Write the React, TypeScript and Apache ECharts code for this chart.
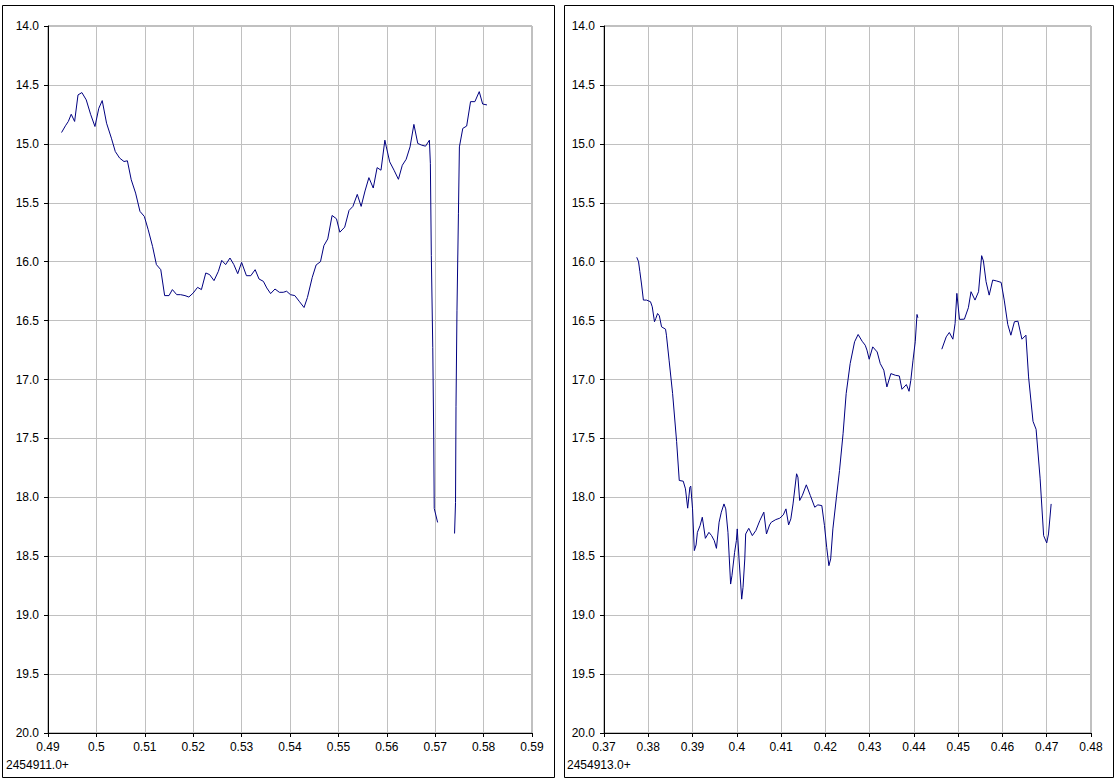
import React, { useEffect, useRef } from "react";
import * as echarts from "echarts";

// Left panel (JD 2454911.0+), two segments separated by a gap
const leftSeg1X = [0.4928, 0.4936, 0.4942, 0.4948, 0.4955, 0.4962, 0.497, 0.4979, 0.4988, 0.4997, 0.5005, 0.5012, 0.5021, 0.5031, 0.5039, 0.5048, 0.5057, 0.5064, 0.5072, 0.5081, 0.509, 0.5099, 0.5107, 0.5116, 0.5124, 0.5133, 0.5141, 0.515, 0.5157, 0.5166, 0.5174, 0.5183, 0.5191, 0.52, 0.5209, 0.5217, 0.5226, 0.5234, 0.5243, 0.5252, 0.5259, 0.5267, 0.5276, 0.5284, 0.5292, 0.53, 0.531, 0.5319, 0.5328, 0.5336, 0.5345, 0.5352, 0.536, 0.5369, 0.5378, 0.5386, 0.5393, 0.5401, 0.541, 0.5419, 0.5429, 0.5436, 0.5446, 0.5454, 0.5463, 0.547, 0.5478, 0.5487, 0.5496, 0.5503, 0.5513, 0.5522, 0.553, 0.5539, 0.5547, 0.5555, 0.5563, 0.5572, 0.558, 0.5588, 0.5596, 0.5599, 0.5606, 0.5615, 0.5624, 0.5632, 0.564, 0.5648, 0.5656, 0.5664, 0.5672, 0.568, 0.5688, 0.569, 0.5692, 0.5695, 0.5697, 0.5698, 0.5705];
const leftSeg1Y = [14.904, 14.847, 14.81, 14.749, 14.81, 14.585, 14.565, 14.627, 14.749, 14.853, 14.698, 14.633, 14.825, 14.952, 15.065, 15.121, 15.15, 15.144, 15.305, 15.418, 15.573, 15.616, 15.729, 15.87, 16.025, 16.068, 16.288, 16.288, 16.237, 16.28, 16.28, 16.288, 16.3, 16.266, 16.218, 16.237, 16.096, 16.11, 16.161, 16.082, 15.989, 16.025, 15.969, 16.025, 16.102, 16.006, 16.119, 16.119, 16.068, 16.147, 16.167, 16.223, 16.271, 16.232, 16.26, 16.26, 16.251, 16.28, 16.288, 16.336, 16.389, 16.304, 16.133, 16.028, 16.0, 15.864, 15.807, 15.608, 15.636, 15.75, 15.707, 15.565, 15.531, 15.429, 15.531, 15.4, 15.287, 15.375, 15.202, 15.224, 14.969, 15.026, 15.153, 15.224, 15.301, 15.182, 15.131, 15.026, 14.835, 14.997, 15.011, 15.02, 14.969, 15.168, 15.949, 16.73, 17.497, 18.094, 18.213];
const leftSeg2X = [0.574, 0.5742, 0.5743, 0.5745, 0.5748, 0.575, 0.5757, 0.5765, 0.5773, 0.5782, 0.5791, 0.5798, 0.5807];
const leftSeg2Y = [18.307, 18.043, 17.227, 16.412, 15.594, 15.026, 14.869, 14.849, 14.642, 14.642, 14.557, 14.662, 14.67];

// Right panel (JD 2454913.0+), two segments separated by a gap
const rightSeg1X = [0.3774, 0.3778, 0.3781, 0.3785, 0.3789, 0.3796, 0.3805, 0.3809, 0.3814, 0.3817, 0.3821, 0.3825, 0.383, 0.3839, 0.3841, 0.3847, 0.3855, 0.3864, 0.387, 0.3879, 0.3884, 0.3889, 0.3894, 0.3896, 0.39, 0.3904, 0.3908, 0.3911, 0.3917, 0.3922, 0.3929, 0.3937, 0.3943, 0.3949, 0.3954, 0.396, 0.3965, 0.3971, 0.3975, 0.398, 0.3986, 0.3989, 0.3995, 0.3999, 0.4001, 0.4005, 0.4011, 0.4014, 0.4018, 0.402, 0.4027, 0.4035, 0.4043, 0.4052, 0.4061, 0.4067, 0.4074, 0.4078, 0.4088, 0.4097, 0.4105, 0.4111, 0.4117, 0.4122, 0.4127, 0.4135, 0.4138, 0.4142, 0.4148, 0.4157, 0.4166, 0.4176, 0.4183, 0.4192, 0.4198, 0.4203, 0.4208, 0.4212, 0.4217, 0.4225, 0.4232, 0.424, 0.4247, 0.4256, 0.4266, 0.4274, 0.4283, 0.429, 0.4294, 0.4299, 0.4307, 0.4317, 0.4324, 0.4332, 0.4339, 0.4348, 0.4358, 0.4367, 0.4373, 0.4383, 0.4389, 0.4393, 0.4398, 0.4403, 0.4407, 0.4409];
const rightSeg1Y = [15.963, 16.0, 16.085, 16.198, 16.326, 16.326, 16.34, 16.383, 16.51, 16.482, 16.44, 16.459, 16.553, 16.573, 16.624, 16.836, 17.12, 17.525, 17.857, 17.863, 17.928, 18.092, 17.914, 17.905, 18.098, 18.452, 18.404, 18.297, 18.24, 18.169, 18.348, 18.297, 18.325, 18.367, 18.433, 18.211, 18.126, 18.056, 18.098, 18.297, 18.736, 18.665, 18.467, 18.367, 18.268, 18.523, 18.864, 18.764, 18.523, 18.311, 18.263, 18.325, 18.282, 18.197, 18.126, 18.311, 18.234, 18.211, 18.189, 18.177, 18.149, 18.098, 18.234, 18.183, 18.056, 17.8, 17.829, 18.027, 17.984, 17.894, 17.984, 18.084, 18.064, 18.07, 18.24, 18.424, 18.58, 18.523, 18.268, 17.999, 17.772, 17.46, 17.12, 16.865, 16.68, 16.618, 16.675, 16.709, 16.751, 16.828, 16.723, 16.766, 16.865, 16.921, 17.063, 16.95, 16.964, 16.97, 17.083, 17.043, 17.1, 17.007, 16.836, 16.68, 16.448, 16.476];
const rightSeg2X = [0.4463, 0.4473, 0.448, 0.4488, 0.4493, 0.4497, 0.4503, 0.4514, 0.4523, 0.4529, 0.4538, 0.4546, 0.4553, 0.4557, 0.4563, 0.457, 0.4578, 0.4587, 0.4597, 0.4604, 0.4612, 0.4619, 0.4627, 0.4635, 0.4644, 0.4653, 0.4659, 0.4669, 0.4676, 0.4685, 0.4693, 0.47, 0.4704, 0.471];
const rightSeg2Y = [16.743, 16.638, 16.601, 16.658, 16.525, 16.269, 16.49, 16.488, 16.391, 16.255, 16.326, 16.255, 15.949, 15.994, 16.17, 16.284, 16.156, 16.164, 16.176, 16.326, 16.533, 16.624, 16.51, 16.505, 16.658, 16.624, 16.978, 17.355, 17.423, 17.837, 18.325, 18.387, 18.311, 18.056];

// Axis settings
const yMin = 14;
const yMax = 20;
const yStep = 0.5;
const leftXMin = 0.49;
const leftXMax = 0.59;
const rightXMin = 0.37;
const rightXMax = 0.48;
const xStep = 0.01;
const leftOffsetLabel = "2454911.0+";
const rightOffsetLabel = "2454913.0+";

const zip = (xs: number[], ys: number[]) => xs.map((x, i) => [x, ys[i]]);

const FONT = "Liberation Sans, Arial, sans-serif";

export default function App() {
  const ref = useRef<HTMLDivElement>(null);
  useEffect(() => {
    if (!ref.current) return;
    const chart = echarts.init(ref.current, undefined, { renderer: "svg" });
    const grids = [
      { left: 48, top: 26, width: 484, height: 707 },
      { left: 604, top: 26, width: 487, height: 707 },
    ].map((g) => ({ ...g, show: true, borderColor: "#808080", borderWidth: 1, backgroundColor: "#ffffff" }));

    const mkX = (idx: number, min: number, max: number) => ({
      type: "value",
      gridIndex: idx,
      min,
      max,
      interval: xStep,
      axisLine: { show: true, onZero: false, lineStyle: { color: "#000", width: 1 } },
      axisTick: { show: true, length: 4, inside: false, lineStyle: { color: "#000" } },
      axisLabel: {
        color: "#000",
        fontFamily: FONT,
        fontSize: 12,
        margin: 8,
        formatter: (v: number) => String(Math.round(v * 100) / 100),
      },
      splitLine: { show: true, lineStyle: { color: "#c0c0c0", width: 1 } },
    });
    const mkY = (idx: number) => ({
      type: "value",
      gridIndex: idx,
      min: yMin,
      max: yMax,
      interval: yStep,
      inverse: true,
      axisLine: { show: true, onZero: false, lineStyle: { color: "#000", width: 1 } },
      axisTick: { show: true, length: 4, inside: false, lineStyle: { color: "#000" } },
      axisLabel: {
        color: "#000",
        fontFamily: FONT,
        fontSize: 12,
        margin: 9,
        formatter: (v: number) => v.toFixed(1),
      },
      splitLine: { show: true, lineStyle: { color: "#c0c0c0", width: 1 } },
    });
    const mkSeries = (idx: number, data: number[][]) => ({
      type: "line",
      xAxisIndex: idx,
      yAxisIndex: idx,
      data,
      showSymbol: false,
      symbol: "none",
      lineStyle: { color: "#000080", width: 1 },
      z: 3,
    });

    chart.setOption({
      animation: false,
      backgroundColor: "#ffffff",
      grid: grids,
      xAxis: [mkX(0, leftXMin, leftXMax), mkX(1, rightXMin, rightXMax)],
      yAxis: [mkY(0), mkY(1)],
      series: [
        mkSeries(0, zip(leftSeg1X, leftSeg1Y)),
        mkSeries(0, zip(leftSeg2X, leftSeg2Y)),
        mkSeries(1, zip(rightSeg1X, rightSeg1Y)),
        mkSeries(1, zip(rightSeg2X, rightSeg2Y)),
      ],
      graphic: [
        { type: "rect", shape: { x: 2.5, y: 5.5, width: 552, height: 772 }, style: { fill: "none", stroke: "#000", lineWidth: 1 }, z: 10 },
        { type: "rect", shape: { x: 564.5, y: 5.5, width: 549, height: 772 }, style: { fill: "none", stroke: "#000", lineWidth: 1 }, z: 10 },
        { type: "text", x: 6, y: 759, style: { text: leftOffsetLabel, fill: "#000", font: `12px ${FONT}` }, z: 10 },
        { type: "text", x: 567, y: 759, style: { text: rightOffsetLabel, fill: "#000", font: `12px ${FONT}` }, z: 10 },
      ],
    });
    return () => chart.dispose();
  }, []);
  return (
    <div
      ref={ref}
      style={{ position: "absolute", left: 0, top: 0, width: 1120, height: 783, background: "#fff" }}
    />
  );
}
